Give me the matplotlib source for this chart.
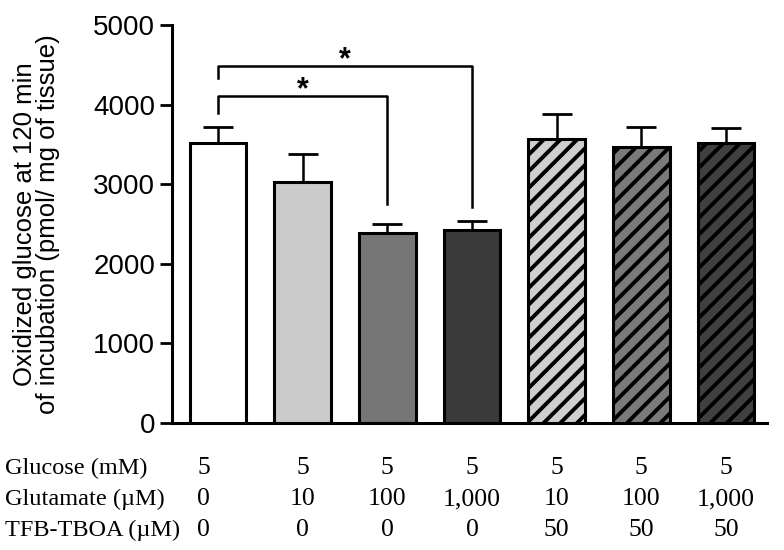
import matplotlib.pyplot as plt

# values
glucose = ["5", "5", "5", "5", "5", "5", "5"]
glutamate = ["0", "10", "100", "1,000", "10", "100", "1,000"]
tfb_tboa = ["0", "0", "0", "0", "50", "50", "50"]
means = [3515, 3030, 2385, 2425, 3565, 3465, 3515]
errs = [205, 350, 115, 115, 315, 255, 190]
fills = ["#ffffff", "#cbcbcb", "#767676", "#3a3a3a", "#cfcfcf", "#7a7a7a", "#404040"]
hatches = [None, None, None, None, "//", "//", "//"]
row_labels = ["Glucose (mM)", "Glutamate (\u00b5M)", "TFB-TBOA (\u00b5M)"]

plt.rcParams['hatch.linewidth'] = 2.8
plt.rcParams['hatch.color'] = 'black'

fig = plt.figure(figsize=(7.84, 5.5), dpi=100)
ax = fig.add_axes([172 / 784, 127 / 550, (767 - 172) / 784, 398 / 550])

x = list(range(len(means)))
for i in x:
    ax.bar(i, means[i], width=0.67, color=fills[i], edgecolor='black',
           linewidth=2.2, hatch=hatches[i], zorder=3)
ax.errorbar(x, means, yerr=[[0] * len(errs), errs], fmt='none', ecolor='black',
            elinewidth=1.8, capsize=10.5, capthick=2, zorder=2)

ax.set_xlim(-0.543, 6.484)
ax.set_ylim(0, 5000)
ax.set_yticks([0, 1000, 2000, 3000, 4000, 5000])
ax.set_xticks([])
for s in ['top', 'right']:
    ax.spines[s].set_visible(False)
for s in ['left', 'bottom']:
    ax.spines[s].set_linewidth(2.2)
ax.tick_params(axis='y', length=9, width=2, labelsize=20, pad=3)
for lab in ax.get_yticklabels():
    lab.set_family('Liberation Sans')
ax.set_ylabel("Oxidized glucose at 120 min\nof incubation (pmol/ mg of tissue)",
              fontsize=18.5, family='Liberation Sans', labelpad=24, linespacing=0.95)

# significance brackets
def bracket(x0, x1, y, y0, y1, star_x):
    ax.plot([x0, x0, x1, x1], [y0, y, y, y1], color='black', lw=1.8,
            clip_on=False, zorder=4)
    ax.text(star_x, y - 120, "*", ha='center', va='bottom', fontsize=22,
            fontweight='bold', family='Liberation Sans')

bracket(0, 2, 4110, 3900, 2750, 1.0)
bracket(0, 3, 4485, 4340, 2710, 1.5)

# condition table under the axis
col_x = [-0.17, 1, 2, 3, 4, 5, 6]
rows = [glucose, glutamate, tfb_tboa]
row_y = [468, 499, 530]
for r, vals in enumerate(rows):
    yf = 1 - row_y[r] / 550
    fig.text(5 / 784, yf, row_labels[r], ha='left', va='center', fontsize=17.5,
             family='Liberation Serif')
    for i, v in enumerate(vals):
        xd = ax.transData.transform((col_x[i], 0))[0]
        fig.text(xd / 784, yf, v, ha='center', va='center', fontsize=18.5,
                 family='Liberation Serif')

plt.savefig('out.png', dpi=100)
